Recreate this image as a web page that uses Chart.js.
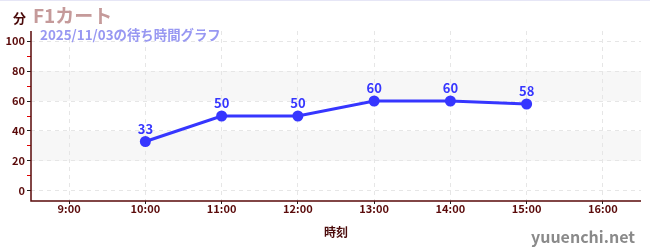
<!DOCTYPE html>
<html>
<head>
<meta charset="utf-8">
<script src="https://cdn.jsdelivr.net/npm/chart.js@4"></script>
<style>
    html, body { margin: 0; padding: 0; background: #fff; }
    #wrap { position: relative; width: 650px; height: 250px; border-top: 1px solid #e6e6f6; box-sizing: border-box; }
    #chart { position: absolute; left: 0; top: 0; }
    .txt { position: absolute; font-family: 'Noto Sans CJK JP', sans-serif; font-weight: bold; white-space: nowrap; }
    #unit { left: 13px; top: 7px; font-size: 13px; color: #4a0a0a; }
    #title { left: 33px; top: 0px; font-size: 19px; color: #c59a9a; }
    #subtitle { left: 40px; top: 23px; font-size: 13.4px; color: #9898f2; }
    #xtitle { left: 336px; top: 222px; font-size: 12px; color: #4a0a0a; transform: translateX(-50%); }
    #mark { right: 15px; top: 223px; font-size: 16px; color: #8a8a8a; }
</style>
</head>
<body>
<div id="wrap">
    <canvas id="chart" width="650" height="249"></canvas>
    <div class="txt" id="unit">分</div>
    <div class="txt" id="title">F1カート</div>
    <div class="txt" id="subtitle">2025/11/03の待ち時間グラフ</div>
    <div class="txt" id="xtitle">時刻</div>
    <div class="txt" id="mark">yuuenchi.net</div>
</div>
<script>
// wait times (minutes) by hour
const hours = ['9:00', '10:00', '11:00', '12:00', '13:00', '14:00', '15:00', '16:00'];
const waitTimes = [null, 33, 50, 50, 60, 60, 58, null];
const yTicks = [0, 10, 20, 30, 40, 50, 60, 70, 80, 90, 100];
const bands = [[20, 40], [60, 80]];

const AXIS_COLOR = '#5a0a0a';
const LINE_COLOR = '#3636ff';
const FONT = 'Noto Sans CJK JP';

// shaded horizontal bands behind the line
const bandPlugin = {
    id: 'bands',
    beforeDraw(chart) {
        const { ctx, chartArea, scales } = chart;
        ctx.save();
        ctx.fillStyle = '#f7f7f7';
        bands.forEach(([lo, hi]) => {
            const yTop = scales.y.getPixelForValue(hi);
            const yBot = scales.y.getPixelForValue(lo);
            ctx.fillRect(chartArea.left, yTop, chartArea.right - chartArea.left, yBot - yTop);
        });
        ctx.restore();
    },
};

// solid axis lines (grid lines are dashed)
const axisPlugin = {
    id: 'axisLines',
    afterDraw(chart) {
        const { ctx, chartArea } = chart;
        ctx.save();
        ctx.setLineDash([]);
        ctx.strokeStyle = AXIS_COLOR;
        ctx.lineWidth = 1.5;
        ctx.beginPath();
        ctx.moveTo(chartArea.left, chartArea.top);
        ctx.lineTo(chartArea.left, chartArea.bottom);
        ctx.lineTo(chartArea.right, chartArea.bottom);
        ctx.stroke();
        ctx.restore();
    },
};

// value labels above points
const labelPlugin = {
    id: 'pointLabels',
    afterDatasetsDraw(chart) {
        const { ctx } = chart;
        const meta = chart.getDatasetMeta(0);
        ctx.save();
        ctx.fillStyle = LINE_COLOR;
        ctx.font = `bold 13px "${FONT}"`;
        ctx.textAlign = 'center';
        ctx.textBaseline = 'bottom';
        meta.data.forEach((pt, i) => {
            const v = waitTimes[i];
            if (v === null) return;
            ctx.fillText(String(v), pt.x, pt.y - 6);
        });
        ctx.restore();
    },
};

new Chart(document.getElementById('chart'), {
    type: 'line',
    data: {
        labels: hours,
        datasets: [{
            data: waitTimes,
            borderColor: LINE_COLOR,
            backgroundColor: LINE_COLOR,
            borderWidth: 3,
            pointRadius: 5.5,
            pointBackgroundColor: LINE_COLOR,
            pointBorderWidth: 0,
            tension: 0,
        }],
    },
    options: {
        responsive: false,
        animation: false,
        layout: { padding: { top: 30, right: 9, bottom: 0, left: 0 } },
        plugins: {
            legend: { display: false },
            tooltip: { enabled: false },
        },
        scales: {
            x: {
                offset: true,
                grid: {
                    offset: false,
                    color: '#e6e6e6',
                    tickColor: '#222',
                    tickLength: 3,
                    tickBorderDash: [],
                },
                border: { display: false, dash: [4, 4] },
                ticks: {
                    color: AXIS_COLOR,
                    font: { size: 11, family: FONT, weight: 'bold' },
                    padding: -2,
                },
                afterFit(scale) { scale.height = 49; },
            },
            y: {
                min: -6.67,
                max: 106.67,
                afterBuildTicks(scale) {
                    scale.ticks = yTicks.map(v => ({ value: v }));
                },
                grid: {
                    color: ctx => (ctx.tick && ctx.tick.value % 20 === 0 ? '#e6e6e6' : 'rgba(0,0,0,0)'),
                    tickColor: ctx => (ctx.tick && ctx.tick.value % 20 === 0 ? '#222' : '#e00000'),
                    tickLength: 4,
                    tickBorderDash: [],
                },
                border: { display: false, dash: [4, 4] },
                ticks: {
                    color: AXIS_COLOR,
                    font: { size: 11, family: FONT, weight: 'bold' },
                    padding: 2,
                    autoSkip: false,
                    callback: v => (v % 20 === 0 ? String(v) : ''),
                },
                afterFit(scale) { scale.width = 31; },
            },
        },
    },
    plugins: [bandPlugin, axisPlugin, labelPlugin],
});
</script>
</body>
</html>
